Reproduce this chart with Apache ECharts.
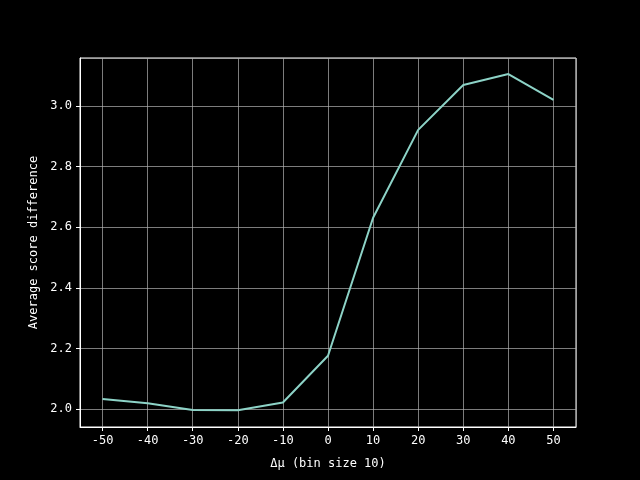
<!DOCTYPE html>
<html><head><meta charset="utf-8">
<script src="https://cdn.jsdelivr.net/npm/echarts@6/dist/echarts.min.js"></script>
<style>html,body{margin:0;padding:0;background:#000;}#c{width:640px;height:480px;}</style>
</head><body><div id="c"></div>
<script>
const xValues = [-50, -40, -30, -20, -10, 0, 10, 20, 30, 40, 50];
const yValues = [2.033, 2.019, 1.997, 1.996, 2.022, 2.176, 2.631, 2.921, 3.069, 3.105, 3.020];
const xLabel = 'Δμ (bin size 10)';
const yLabel = 'Average score difference';

const font = 'DejaVu Sans Mono';
const chart = echarts.init(document.getElementById('c'), null, {renderer: 'canvas'});
chart.setOption({
  backgroundColor: '#000',
  animation: false,
  grid: {left: 80, right: 64, top: 58, bottom: 53, show: true, borderColor: '#fff', borderWidth: 1, backgroundColor: 'transparent'},
  xAxis: {
    type: 'value', min: -55, max: 55, splitNumber: 11,
    name: xLabel, nameLocation: 'middle', nameGap: 31,
    nameTextStyle: {color: '#fff', fontFamily: font, fontSize: 12},
    axisLine: {show: true, onZero: false, lineStyle: {color: '#fff', width: 1}},
    axisTick: {show: true, length: 4, lineStyle: {color: '#fff'}},
    axisLabel: {color: '#fff', fontFamily: font, fontSize: 12, margin: 8, showMinLabel: false, showMaxLabel: false},
    splitLine: {show: true, lineStyle: {color: '#b0b0b0', width: 1, opacity: 0.7}}
  },
  yAxis: {
    type: 'value', min: 1.941, max: 3.158, splitNumber: 6,
    name: yLabel, nameLocation: 'middle', nameGap: 36, nameRotate: 90,
    nameTextStyle: {color: '#fff', fontFamily: font, fontSize: 12},
    axisLine: {show: true, onZero: false, lineStyle: {color: '#fff', width: 1}},
    axisTick: {show: true, length: 4, lineStyle: {color: '#fff'}},
    axisLabel: {color: '#fff', fontFamily: font, fontSize: 12, margin: 8, showMinLabel: false, showMaxLabel: false,
      formatter: v => v.toFixed(1)},
    splitLine: {show: true, lineStyle: {color: '#b0b0b0', width: 1, opacity: 0.7}}
  },
  series: [{
    type: 'line', data: xValues.map((x, i) => [x, yValues[i]]),
    showSymbol: false, lineStyle: {color: '#8dd3c7', width: 2}, itemStyle: {color: '#8dd3c7'}
  }]
});
</script></body></html>
